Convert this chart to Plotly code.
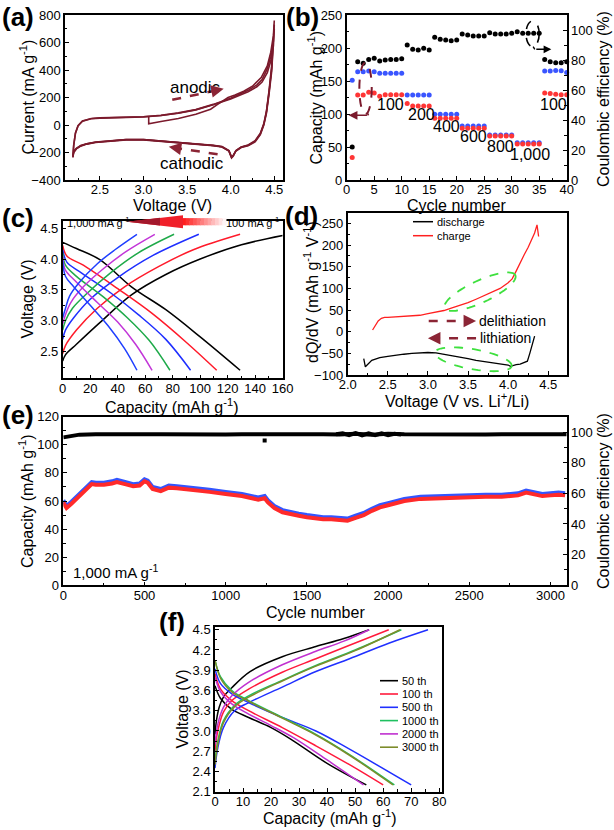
import math
import plotly.graph_objects as go

W, H = 614, 830
FONT = "Liberation Sans, Arial, sans-serif"
MAROON = "#7b1a2c"

# ---------------- (a) cyclic voltammetry ----------------
cv_anodic_v1 = [3.06, 3.06, 3.2, 3.4, 3.6, 3.77, 3.85, 3.97, 4.05, 4.15, 4.25, 4.35, 4.42, 4.46, 4.49, 4.5]
cv_anodic_i1 = [60, 8, 25, 47, 78, 115, 150, 200, 218, 246, 282, 345, 430, 530, 650, 760]
cv_anodic_v = [2.19, 2.2, 2.22, 2.25, 2.3, 2.4, 2.5, 2.7, 3.0, 3.2, 3.4, 3.6, 3.8, 4.0, 4.1, 4.2, 4.3, 4.36, 4.42, 4.46, 4.49, 4.5]
cv_anodic_i2 = [-235, -150, -60, -5, 30, 47, 52, 55, 60, 70, 88, 112, 150, 195, 222, 252, 292, 330, 410, 500, 610, 730]
cv_anodic_i3 = [-228, -145, -58, -5, 28, 45, 50, 54, 59, 69, 86, 110, 147, 190, 215, 242, 278, 312, 380, 465, 575, 700]
cv_cathodic_v = [4.5, 4.49, 4.47, 4.44, 4.41, 4.38, 4.34, 4.28, 4.2, 4.12, 4.06, 4.03, 4.01, 3.98, 3.9, 3.8,
                 3.6, 3.4, 3.2, 3.0, 2.8, 2.6, 2.45, 2.35, 2.28, 2.23, 2.2, 2.19]
cv_cathodic_i1 = [760, 620, 430, 250, 100, 10, -60, -115, -145, -160, -185, -225, -240, -190, -160, -150,
                  -140, -133, -122, -108, -108, -116, -127, -139, -154, -174, -200, -235]
cv_cathodic_i2 = [730, 590, 410, 240, 95, 5, -65, -118, -148, -162, -187, -222, -236, -188, -158, -149,
                  -138, -131, -120, -106, -106, -114, -125, -137, -151, -171, -196, -228]
cv_cathodic_i3 = [700, 560, 390, 225, 85, 0, -70, -122, -150, -164, -190, -220, -232, -186, -157, -148,
                  -137, -130, -119, -105, -105, -113, -124, -136, -149, -169, -192, -225]

# ---------------- (b) rate performance ----------------
b_cycles = list(range(1, 41))
b_ce = [22, 78.9, 77.8, 80.4, 81.1, 79.3, 80, 80.4, 80.4, 80.9, 90, 87.1, 86.7, 87.8, 86.7,
        95.1, 93.8, 93.3, 92.9, 93.3, 97.3, 96.7, 96, 96, 96, 98.2, 97.3, 97.3, 97.3, 97.8,
        98.9, 97.8, 97.8, 97.8, 97.8, 80.4, 78.9, 78.2, 78.2, 78.9]
b_charge = [151, 164, 164, 165, 164, 161.6, 161.6, 161.6, 161.6, 161.6, 128.8, 128.8, 128.8, 128.8, 128.8,
            99.5, 99.5, 99.5, 99.5, 99.5, 81.8, 81.8, 81.8, 81.8, 81.8, 68.2, 68.2, 68.2, 68.2, 68.2,
            56.6, 56.6, 56.6, 56.6, 56.6, 165.2, 165.2, 166, 165.5, 163]
b_discharge = [34, 128.8, 128.8, 133, 132, 127, 129.3, 129.3, 129.3, 129.3, 116, 112, 112, 112, 112,
               93.4, 93.4, 93.4, 93.4, 93.4, 78.3, 78.3, 78.3, 78.3, 78.3, 66.7, 66.7, 66.7, 66.7, 66.7,
               54.5, 54.5, 54.5, 54.5, 54.5, 132, 131, 130, 129, 129]
b_rate_labels = ["100", "200", "400", "600", "800", "1,000", "100"]
b_label_x = [7.9, 13.6, 18.2, 23.0, 27.9, 33.3, 37.6]
b_label_y = [115, 98.5, 81, 65.7, 50.5, 38, 115]

# ---------------- (c) charge/discharge at different rates ----------------
c_colors = ["#000000", "#ff1a2a", "#1f2fff", "#1faa4a", "#c236d8", "#1f3fff"]
c_dis_cap = [[0, 10, 27, 50, 75, 100, 129],
             [0, 3, 15, 40, 65, 90, 112],
             [0, 3, 12, 35, 55, 75, 93],
             [0, 2, 10, 30, 47, 63, 78],
             [0, 2, 9, 25, 40, 53, 65],
             [0, 2, 8, 20, 33, 45, 54]]
c_dis_volt = [[4.27, 4.17, 3.99, 3.55, 3.18, 2.74, 2.2],
              [4.22, 4.05, 3.9, 3.52, 3.12, 2.65, 2.2],
              [4.15, 3.95, 3.8, 3.45, 3.1, 2.7, 2.2],
              [4.1, 3.9, 3.72, 3.38, 3.05, 2.68, 2.2],
              [4.05, 3.82, 3.65, 3.3, 2.98, 2.62, 2.2],
              [3.98, 3.72, 3.55, 3.25, 2.92, 2.55, 2.2]]
c_ch_cap = [[0, 2, 10, 27, 50, 75, 100, 130, 160],
            [0, 2, 10, 25, 45, 70, 95, 129],
            [0, 2, 8, 20, 40, 65, 99],
            [0, 2, 7, 18, 35, 55, 81],
            [0, 2, 6, 15, 30, 46, 67],
            [0, 2, 5, 12, 25, 38, 54]]
c_ch_volt = [[2.35, 2.45, 2.62, 2.97, 3.42, 3.75, 4.0, 4.23, 4.38],
             [2.47, 2.6, 2.85, 3.2, 3.55, 3.88, 4.15, 4.4],
             [2.7, 2.85, 3.05, 3.35, 3.7, 4.05, 4.4],
             [2.85, 3.0, 3.2, 3.45, 3.78, 4.1, 4.4],
             [2.95, 3.1, 3.3, 3.55, 3.85, 4.12, 4.4],
             [3.05, 3.2, 3.4, 3.62, 3.92, 4.15, 4.4]]

# ---------------- (d) dQ/dV ----------------
d_ch_v = [2.31, 2.34, 2.38, 2.42, 2.46, 2.5, 2.6, 2.7, 2.8, 2.9, 3.0, 3.1, 3.2, 3.3, 3.4, 3.5, 3.6, 3.7,
          3.8, 3.9, 4.0, 4.05, 4.1, 4.15, 4.2, 4.25, 4.3, 4.33, 4.36, 4.37, 4.38]
d_ch_q = [4, 14, 25, 31, 33, 33, 34, 35, 36, 38, 42, 45, 49, 55, 61, 67, 75, 83,
          91, 100, 113, 122, 140, 160, 178, 195, 215, 228, 247, 235, 220]
d_dis_v = [2.2, 2.21, 2.22, 2.3, 2.4, 2.5, 2.6, 2.7, 2.8, 2.9, 3.0, 3.1, 3.2, 3.3, 3.4, 3.5, 3.6, 3.7,
           3.8, 3.9, 4.0, 4.03, 4.1, 4.15, 4.2, 4.24, 4.27, 4.3, 4.33]
d_dis_q = [-62, -75, -81, -66, -60, -57, -54, -52, -50, -49, -48, -49, -52, -55, -58, -62, -66, -69,
           -72, -74, -77, -80, -76, -75, -72, -68, -50, -30, -10]

# ---------------- (e) long cycling ----------------
e_cyc = [0, 20, 50, 100, 150, 175, 200, 250, 300, 330, 380, 430, 470, 500, 520, 550, 600, 650, 700, 800,
         900, 1000, 1100, 1200, 1240, 1260, 1300, 1350, 1400, 1450, 1500, 1550, 1600, 1650, 1700, 1750,
         1800, 1850, 1900, 1950, 2000, 2050, 2100, 2200, 2300, 2400, 2500, 2600, 2700, 2800, 2850, 2900,
         2950, 3000, 3050, 3090]
e_red = [59, 55, 58, 64, 70, 72, 71.5, 71.5, 72.5, 73.5, 72, 70.5, 71, 74, 73, 68.5, 67, 69.5, 69, 68,
         66.5, 65, 63.5, 61, 62, 59, 55, 52, 50.5, 49.5, 48.5, 47.5, 47, 47, 46.5, 46,
         48, 50, 53, 55.5, 57, 58.5, 60, 61.5, 62, 62, 62.5, 63, 63, 64, 66, 65,
         63.5, 64, 64.5, 64]
e_blue = [60.5, 56.5, 59.5, 65.5, 71.5, 73.5, 73, 73, 74, 75, 73.5, 72, 72.5, 75.5, 74.5, 70, 68.5, 71, 70.5, 69.5,
          68, 66.5, 65, 62.5, 63.5, 60.5, 56.5, 53.5, 52, 51, 50, 49, 48.5, 48.5, 48, 47.5,
          49.5, 51.5, 54.5, 57, 58.5, 60, 61.5, 63, 63.5, 63.5, 64, 64.5, 64.5, 65.5, 67.5, 66.5,
          65, 65.5, 66, 65.5]
e_ce_cyc = list(range(0, 3200, 100))
e_ce = [96.5, 98.3, 98.6, 98.4, 98.7, 98.5, 98.6, 98.4, 98.5, 98.6, 98.4, 98.5, 98.6, 98.3, 98.5, 98.6,
        98.5, 98.4, 98.8, 98.2, 98.9, 98.5, 98.4, 98.6, 98.5, 98.5, 98.4, 98.6, 98.5, 98.5, 98.6, 98.5]
e_ce_noisy_cyc = [1680, 1720, 1760, 1800, 1840, 1880, 1920, 1960, 2000, 2040, 2080]
e_ce_noisy = [98.5, 99.2, 97.9, 99.3, 97.8, 99.1, 98.0, 99.2, 97.9, 98.9, 98.4]
e_outlier_cyc = [1240]
e_outlier_ce = [94.5]

# ---------------- (f) selected cycles ----------------
f_names = ["50 th", "100 th", "500 th", "1000 th", "2000 th", "3000 th"]
f_colors = ["#000000", "#ff1a3c", "#2030ff", "#1fc060", "#c030d0", "#7d8c2a"]
f_dis_cap = [[0, 2, 6, 12, 20, 27, 40, 54],
             [0, 2, 6, 12, 24, 36, 48, 60],
             [0, 2, 6, 12, 24, 36, 48, 70],
             [0, 2, 6, 12, 24, 36, 48, 64],
             [0, 2, 6, 12, 20, 28, 40, 53],
             [0, 2, 6, 12, 24, 36, 48, 63.5]]
f_dis_volt = [[3.67, 3.48, 3.32, 3.2, 3.05, 2.88, 2.52, 2.2],
              [3.85, 3.62, 3.45, 3.3, 3.05, 2.78, 2.5, 2.2],
              [3.92, 3.7, 3.55, 3.42, 3.2, 3.0, 2.73, 2.2],
              [4.05, 3.8, 3.6, 3.45, 3.2, 2.95, 2.65, 2.2],
              [3.8, 3.58, 3.4, 3.25, 3.08, 2.9, 2.57, 2.2],
              [4.05, 3.78, 3.58, 3.44, 3.19, 2.94, 2.64, 2.2]]
f_ch_cap = [[0, 0.5, 1.5, 3, 6, 12.5, 24, 36, 46, 55],
            [0, 1, 3, 6, 12, 24, 36, 48, 62],
            [0, 1, 3, 7, 12, 24, 36, 48, 62, 76],
            [0, 1, 3, 7, 12, 24, 36, 50, 66.5],
            [0, 1, 3, 6, 12, 24, 36, 46, 55],
            [0, 1, 3, 7, 12, 24, 36, 50, 66]]
f_ch_volt = [[2.95, 3.15, 3.35, 3.5, 3.64, 3.88, 4.1, 4.25, 4.37, 4.5],
             [2.7, 3.0, 3.28, 3.45, 3.62, 3.87, 4.07, 4.27, 4.5],
             [2.45, 2.75, 3.05, 3.3, 3.42, 3.65, 3.88, 4.07, 4.3, 4.5],
             [2.55, 2.85, 3.15, 3.38, 3.52, 3.75, 3.97, 4.2, 4.5],
             [2.8, 3.1, 3.35, 3.52, 3.72, 3.98, 4.18, 4.33, 4.5],
             [2.5, 2.8, 3.12, 3.36, 3.5, 3.74, 3.96, 4.19, 4.5]]


# ---------------- helpers ----------------
def xd(l, r):
    return [l / W, r / W]


def yd(t, b):
    return [1 - b / H, 1 - t / H]


def px(x):
    return x / W


def py(y):
    return 1 - y / H


def axis(domain, anchor, **kw):
    d = dict(domain=domain, anchor=anchor, showline=True, linecolor="black", linewidth=1.5,
             mirror=True, ticks="inside", ticklen=4, tickwidth=1.2, tickcolor="black",
             showgrid=False, zeroline=False, automargin=False,
             tickfont=dict(size=13, color="black", family=FONT))
    d.update(kw)
    return d


def xaxis_(domain, anchor, **kw):
    return axis(domain, anchor, ticklabelstandoff=-3, **kw)


fig = go.Figure()

# (a)
for av, ai, ci in [(cv_anodic_v1, cv_anodic_i1, cv_cathodic_i1),
                   (cv_anodic_v, cv_anodic_i2, cv_cathodic_i2),
                   (cv_anodic_v, cv_anodic_i3, cv_cathodic_i3)]:
    fig.add_trace(go.Scatter(x=av + cv_cathodic_v, y=ai + ci, mode="lines",
                             line=dict(color=MAROON, width=1.6), xaxis="x", yaxis="y"))

# (b)
fig.add_trace(go.Scatter(x=b_cycles, y=b_ce, mode="markers", marker=dict(color="black", size=5),
                         xaxis="x2", yaxis="y3", cliponaxis=False))
fig.add_trace(go.Scatter(x=b_cycles, y=b_charge, mode="markers", marker=dict(color="#3a55ff", size=5),
                         xaxis="x2", yaxis="y2", cliponaxis=False))
fig.add_trace(go.Scatter(x=b_cycles, y=b_discharge, mode="markers", marker=dict(color="#ff3535", size=5),
                         xaxis="x2", yaxis="y2", cliponaxis=False))

# (c)
for i in range(6):
    fig.add_trace(go.Scatter(x=c_dis_cap[i], y=c_dis_volt[i], mode="lines", line_shape="spline",
                             line=dict(color=c_colors[i], width=1.5), xaxis="x3", yaxis="y4"))
    fig.add_trace(go.Scatter(x=c_ch_cap[i], y=c_ch_volt[i], mode="lines", line_shape="spline",
                             line=dict(color=c_colors[i], width=1.5), xaxis="x3", yaxis="y4"))

# (d)
fig.add_trace(go.Scatter(x=d_ch_v, y=d_ch_q, mode="lines", line=dict(color="#ff2020", width=1.3),
                         xaxis="x4", yaxis="y5"))
fig.add_trace(go.Scatter(x=d_dis_v, y=d_dis_q, mode="lines", line=dict(color="black", width=1.3),
                         xaxis="x4", yaxis="y5"))

# (e)
fig.add_trace(go.Scatter(x=e_ce_cyc, y=e_ce, mode="lines", line=dict(color="black", width=4),
                         xaxis="x5", yaxis="y7"))
fig.add_trace(go.Scatter(x=e_ce_noisy_cyc, y=e_ce_noisy, mode="lines", line=dict(color="black", width=4),
                         xaxis="x5", yaxis="y7"))
fig.add_trace(go.Scatter(x=e_outlier_cyc, y=e_outlier_ce, mode="markers",
                         marker=dict(color="black", size=4, symbol="square"), xaxis="x5", yaxis="y7"))
fig.add_trace(go.Scatter(x=e_cyc, y=e_blue, mode="lines", line=dict(color="#3355ff", width=4),
                         xaxis="x5", yaxis="y6"))
fig.add_trace(go.Scatter(x=e_cyc, y=e_red, mode="lines", line=dict(color="#ff2a2a", width=4),
                         xaxis="x5", yaxis="y6"))

# (f)
for i in range(6):
    fig.add_trace(go.Scatter(x=f_dis_cap[i], y=f_dis_volt[i], mode="lines", line_shape="spline",
                             line=dict(color=f_colors[i], width=1.5), xaxis="x6", yaxis="y8"))
    fig.add_trace(go.Scatter(x=f_ch_cap[i], y=f_ch_volt[i], mode="lines", line_shape="spline",
                             line=dict(color=f_colors[i], width=1.5), xaxis="x6", yaxis="y8"))

minor = lambda dt: dict(ticks="inside", ticklen=2.5, tickcolor="black", dtick=dt)

fig.update_layout(
    width=W, height=H, margin=dict(l=0, r=0, t=0, b=0, autoexpand=False),
    paper_bgcolor="white", plot_bgcolor="white", showlegend=False,
    font=dict(family=FONT, color="black"),
    xaxis=xaxis_(xd(65, 283), "y", range=[2.1, 4.6], tick0=2.5, dtick=0.5,
                 tickformat=".1f", minor=minor(0.25)),
    yaxis=axis(yd(15, 180), "x", range=[-400, 800], dtick=200, minor=minor(100)),
    xaxis2=xaxis_(xd(346.7, 566.7), "y2", range=[0, 40], dtick=5, minor=minor(2.5)),
    yaxis2=axis(yd(15, 180), "x2", range=[0, 250], dtick=50, minor=minor(25)),
    yaxis3=axis(yd(15, 180), "x2", range=[0, 110], overlaying="y2",
                side="right", tickvals=[0, 20, 40, 60, 80, 100], minor=dict(ticks="inside", ticklen=2.5,
                tickcolor="black", tick0=0, dtick=10)),
    xaxis3=xaxis_(xd(62.7, 282.7), "y4", range=[0, 160], dtick=20, minor=minor(10)),
    yaxis4=axis(yd(220.7, 378.3), "x3", range=[2.07, 4.62],
                tickvals=[2.5, 3.0, 3.5, 4.0, 4.5], tickformat=".1f",
                minor=dict(ticks="inside", ticklen=2.5, tickcolor="black", tick0=2.5, dtick=0.25)),
    xaxis4=xaxis_(xd(347.7, 566.7), "y5", range=[2.0, 4.73],
                  dtick=0.5, tick0=2.0, tickformat=".1f", minor=minor(0.25)),
    yaxis5=axis(yd(212.7, 375), "x4", range=[-100, 275], dtick=50, minor=minor(25)),
    xaxis5=xaxis_(xd(63.3, 566.7), "y6", range=[0, 3100], dtick=500, minor=minor(250)),
    yaxis6=axis(yd(416.7, 585.3), "x5", range=[0, 120], dtick=20, minor=minor(10)),
    yaxis7=axis(yd(416.7, 585.3), "x5", range=[0, 110], overlaying="y6",
                side="right", tickvals=[0, 20, 40, 60, 80, 100],
                minor=dict(ticks="inside", ticklen=2.5, tickcolor="black", tick0=0, dtick=10)),
    xaxis6=xaxis_(xd(215, 442), "y8", range=[0, 81], dtick=10, minor=minor(5)),
    yaxis8=axis(yd(627, 791.7), "x6", range=[2.1, 4.54], tick0=2.1, dtick=0.3,
                tickformat=".1f", minor=minor(0.15)),
)

shapes = []
ann = []


def text(x, y, t, size=13, xanchor="center", xref="paper", yref="paper", bold=False, color="black", angle=0):
    ann.append(dict(x=x, y=y, xref=xref, yref=yref, text=("<b>%s</b>" % t) if bold else t,
                    showarrow=False, xanchor=xanchor, yanchor="middle", textangle=angle,
                    font=dict(size=size, color=color, family=FONT)))


def arrow_head(x, y, ax, ay, xr, yr, color, width=2.2, head=2, size=1.0):
    ann.append(dict(x=x, y=y, ax=ax, ay=ay, xref=xr, yref=yr, axref=xr, ayref=yr, text="",
                    showarrow=True, arrowhead=head, arrowsize=size, arrowwidth=width, arrowcolor=color))


def ellipse_px(cx, cy, a, b, ang, color, dash="dash", width=1.8):
    th = math.radians(ang)
    pts = []
    for k in range(73):
        t = 2 * math.pi * k / 72
        x = cx + a * math.cos(t) * math.cos(th) - b * math.sin(t) * math.sin(th)
        y = cy - (a * math.cos(t) * math.sin(th) + b * math.sin(t) * math.cos(th))
        pts.append("%.5f,%.5f" % (px(x), py(y)))
    shapes.append(dict(type="path", xref="paper", yref="paper", path="M" + " L".join(pts) + " Z",
                       line=dict(color=color, dash=dash, width=width)))


# axis titles (placed as text)
TS = 16
axis_titles = [
    ("Voltage (V)", 172.5, 205.5, 0),
    ("Current (mA g<sup>-1</sup>)", 27, 97.5, -90),
    ("Cycle number", 456.7, 205.5, 0),
    ("Capacity (mAh g<sup>-1</sup>)", 315, 97.5, -90),
    ("Coulombic efficiency (%)", 603, 99, -90),
    ("Capacity (mAh g<sup>-1</sup>)", 171.7, 405.5, 0),
    ("Voltage (V)", 27, 299.5, -90),
    ("Voltage (V vs. Li<sup>+</sup>/Li)", 456.7, 400.5, 0),
    ("dQ/dV (mAh g<sup>-1</sup> V<sup>-1</sup>)", 311, 292, -90),
    ("Cycle number", 315, 612, 0),
    ("Capacity (mAh g<sup>-1</sup>)", 26, 501, -90),
    ("Coulombic efficiency (%)", 603, 501, -90),
    ("Capacity (mAh g<sup>-1</sup>)", 330, 817, 0),
    ("Voltage (V)", 181.5, 709, -90),
]
for t, x, y, a in axis_titles:
    text(px(x), py(y), t, size=TS, angle=a)

# panel labels
for lbl, x, y in [("(a)", 18, 17), ("(b)", 302, 17), ("(c)", 18, 218), ("(d)", 301.5, 216),
                  ("(e)", 18, 415), ("(f)", 172, 622)]:
    text(px(x), py(y), lbl, size=26, bold=True)

# (a) annotations
text(3.6, 276, "anodic", size=17, xref="x", yref="y")
text(3.56, -281, "cathodic", size=17, xref="x", yref="y")
shapes.append(dict(type="line", xref="x", yref="y", x0=3.33, y0=183, x1=3.83, y1=251,
                   line=dict(color="#8b2535", width=2.5, dash="dash")))
arrow_head(3.92, 263, 3.82, 250, "x", "y", "#8b2535", width=2.5)
shapes.append(dict(type="line", xref="x", yref="y", x0=3.85, y0=-213, x1=3.38, y1=-168,
                   line=dict(color="#8b2535", width=2.5, dash="dash")))
arrow_head(3.29, -159, 3.39, -169, "x", "y", "#8b2535", width=2.5)

# (b) annotations
for t, x, y in zip(b_rate_labels, b_label_x, b_label_y):
    text(x, y, t, size=16, xref="x2", yref="y2")
shapes.append(dict(type="circle", xref="x2", yref="y2", x0=2.3, x1=4.55, y0=100, y1=178,
                   line=dict(color=MAROON, dash="dash", width=2)))
shapes.append(dict(type="line", xref="x2", yref="y2", x0=3.8, y0=101, x1=3.95, y1=98,
                   line=dict(color=MAROON, width=1.6)))
arrow_head(0.35, 98, 3.95, 98, "x2", "y2", MAROON, width=1.6, head=2, size=1.1)
shapes.append(dict(type="circle", xref="x2", yref="y2", x0=32.6, x1=35.0, y0=202, y1=241,
                   line=dict(color="black", dash="dash", width=1.6)))
shapes.append(dict(type="line", xref="x2", yref="y2", x0=33.9, y0=202, x1=34.2, y1=198,
                   line=dict(color="black", width=1.4)))
arrow_head(37.2, 198, 34.2, 198, "x2", "y2", "black", width=1.4, head=2, size=1.1)

# (c) rate arrow (gradient body + head)
body_l, body_r, yc = 182, 226, 221.7
n = 12
for k in range(n):
    f = k / (n - 1)
    r, g, b = 255, int(30 + f * 215), int(30 + f * 215)
    x0 = body_l + (body_r - body_l) * k / n
    x1 = body_l + (body_r - body_l) * (k + 1) / n + 0.5
    shapes.append(dict(type="rect", xref="paper", yref="paper", x0=px(x0), x1=px(x1),
                       y0=py(yc + 3.6), y1=py(yc - 3.6), line=dict(width=0),
                       fillcolor="rgb(%d,%d,%d)" % (r, g, b)))
shapes.append(dict(type="path", xref="paper", yref="paper",
                   path="M%.5f,%.5f L%.5f,%.5f L%.5f,%.5f Z" % (px(127), py(yc), px(183), py(yc - 6.5),
                                                              px(183), py(yc + 6.5)),
                   line=dict(width=0), fillcolor="#f0202a"))
shapes.append(dict(type="path", xref="paper", yref="paper",
                   path="M%.5f,%.5f L%.5f,%.5f L%.5f,%.5f Z" % (px(127), py(yc), px(160), py(yc - 3.9),
                                                              px(160), py(yc + 3.9)),
                   line=dict(width=0), fillcolor="#a3182c"))
text(px(65), py(222), "1,000 mA g<sup>-1</sup>", size=11, xanchor="left")
text(px(281), py(222), "100 mA g<sup>-1</sup>", size=11, xanchor="right")

# (d) legend, arrows, ellipses
for yy, col, lab in [(221.7, "black", "discharge"), (235.7, "#ff2020", "charge")]:
    shapes.append(dict(type="line", xref="paper", yref="paper", x0=px(413), x1=px(433), y0=py(yy), y1=py(yy),
                       line=dict(color=col, width=1.5)))
    text(px(435), py(yy), lab, size=11, xanchor="left")
shapes.append(dict(type="line", xref="x4", yref="y5", x0=3.01, y0=25, x1=3.5, y1=25,
                   line=dict(color="#8b2535", width=2.5, dash="dash")))
arrow_head(3.6, 25, 3.49, 25, "x4", "y5", "#8b2535", width=2.5)
shapes.append(dict(type="line", xref="x4", yref="y5", x0=3.6, y0=-15, x1=3.11, y1=-15,
                   line=dict(color="#8b2535", width=2.5, dash="dash")))
arrow_head(3.0, -15, 3.12, -15, "x4", "y5", "#8b2535", width=2.5)
text(3.61, 25, "delithiation", size=14, xanchor="left", xref="x4", yref="y5")
text(3.63, -15, "lithiation", size=14, xanchor="left", xref="x4", yref="y5")
ellipse_px(480, 291.7, 39, 11, 25, "#3ee03e")
ellipse_px(473.3, 359.3, 39, 10, -10, "#3ee03e")

# (e) rate label
text(px(70.7), py(571.7), "1,000 mA g<sup>-1</sup>", size=15, xanchor="left")

# (f) legend
f_leg_y = [680.7, 694, 707.3, 720.6, 733.9, 747.2]
for yy, col, lab in zip(f_leg_y, f_colors, f_names):
    shapes.append(dict(type="line", xref="paper", yref="paper", x0=px(380), x1=px(398), y0=py(yy), y1=py(yy),
                       line=dict(color=col, width=1.6)))
    text(px(400), py(yy), lab, size=11, xanchor="left")

fig.update_layout(shapes=shapes, annotations=ann)
fig.write_html("out.html", config={"displayModeBar": False},
               post_script="document.body.style.margin='0px';")
